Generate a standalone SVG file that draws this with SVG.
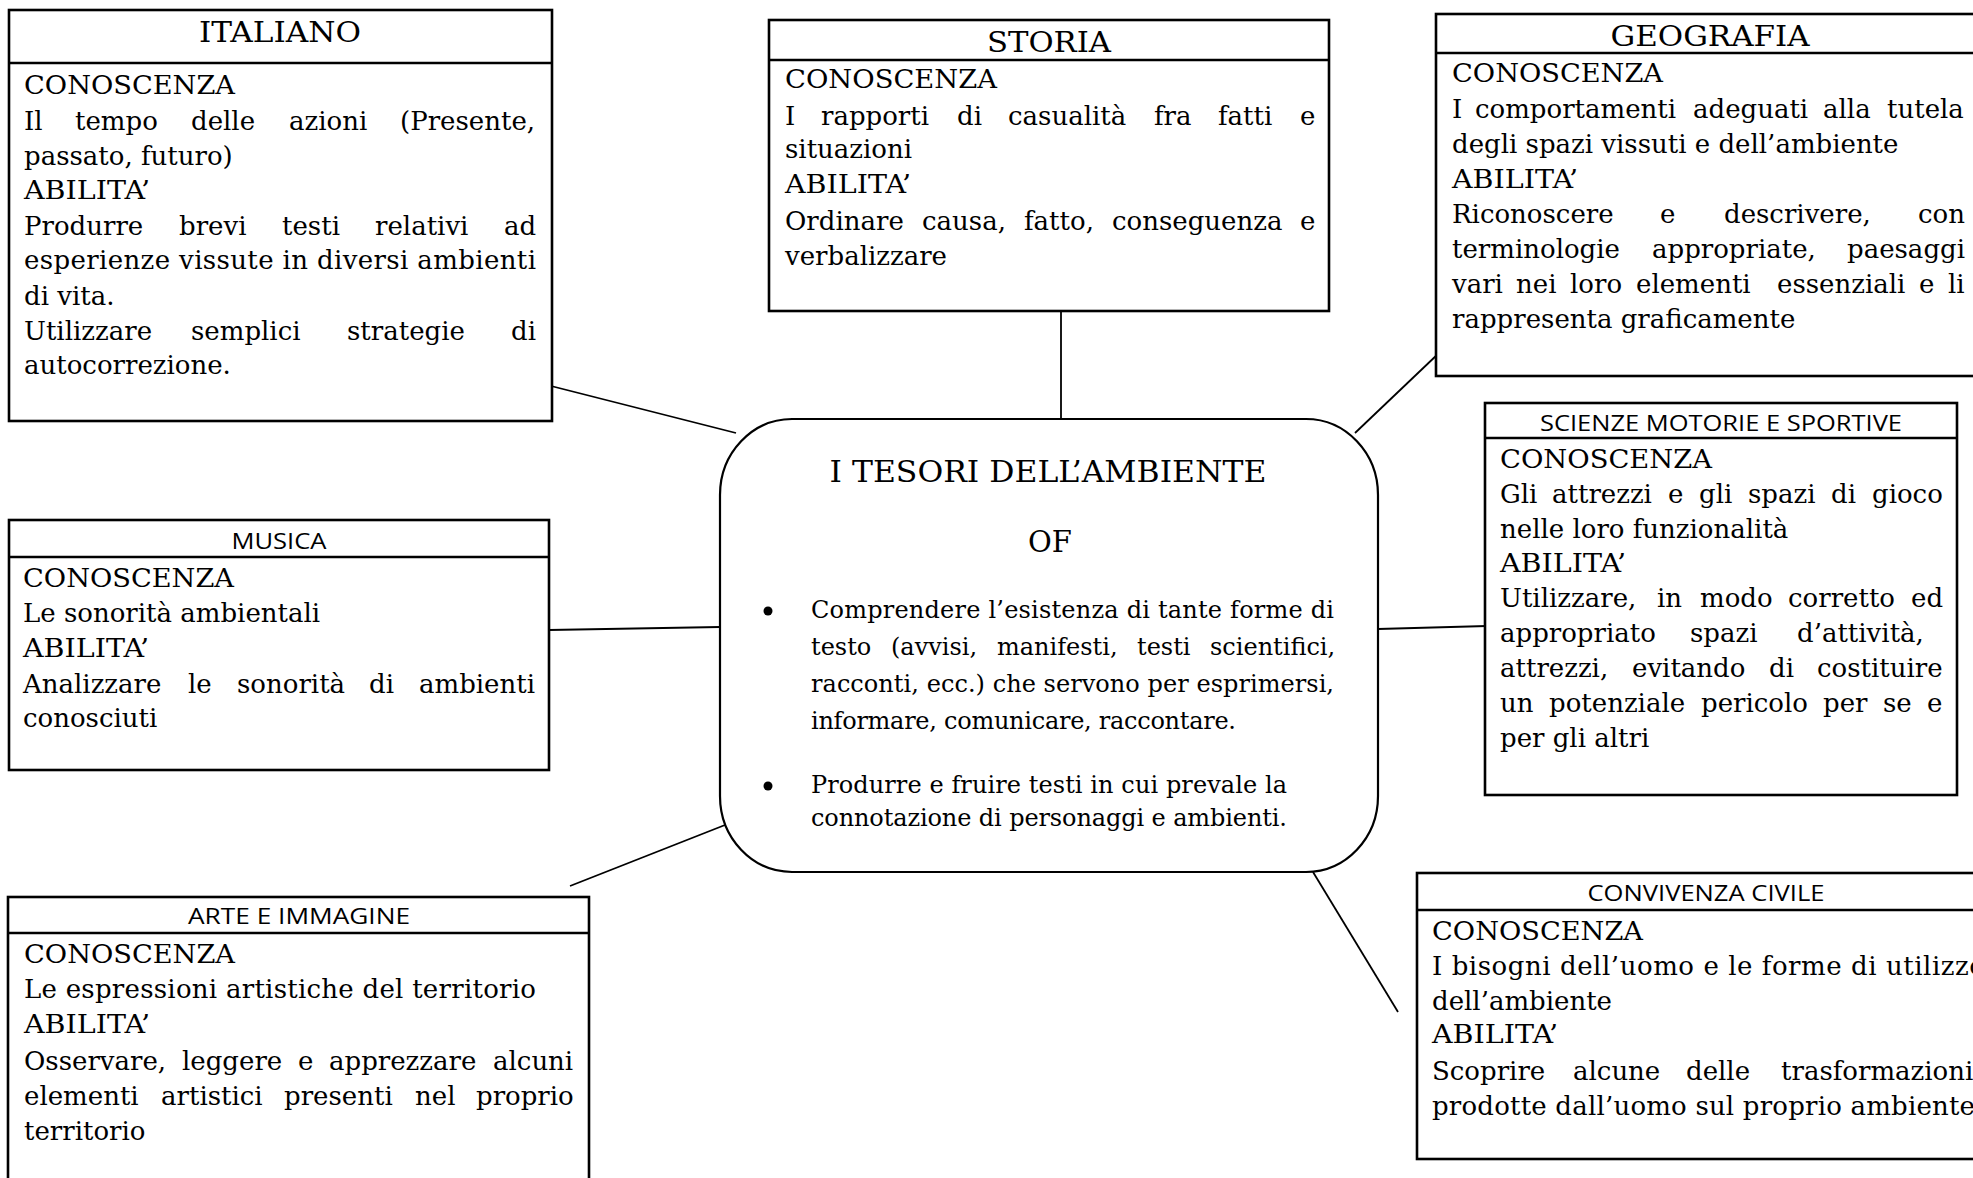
<svg xmlns="http://www.w3.org/2000/svg" width="1973" height="1178" viewBox="0 0 1973 1178">
<style>
.box{fill:#fff;stroke:#000;stroke-width:2.6}
.div{stroke:#000;stroke-width:2.6}
.conn{stroke:#000;stroke-width:1.8;fill:none}
.t{font-family:"DejaVu Serif","Liberation Serif",serif;font-size:26px;fill:#000}
.h{font-family:"DejaVu Serif","Liberation Serif",serif;font-size:28px;fill:#000;text-anchor:middle}
.hs{font-family:"Open Sans","Noto Sans","Liberation Sans",sans-serif;font-size:22px;fill:#000;text-anchor:middle}
.c{font-family:"DejaVu Serif","Liberation Serif",serif;font-size:24px;fill:#000}
.ct{font-family:"DejaVu Serif","Liberation Serif",serif;font-size:29px;fill:#000;text-anchor:middle}
</style>
<rect width="1973" height="1178" fill="#fff"/>
<g id="connectors">
<line class="conn" x1="551" y1="386" x2="736" y2="433"/>
<line class="conn" x1="1061" y1="306" x2="1061" y2="418"/>
<line class="conn" x1="1355" y1="433" x2="1439" y2="353"/>
<line class="conn" x1="549" y1="630" x2="720" y2="627"/>
<line class="conn" x1="1378" y1="629" x2="1487" y2="626"/>
<line class="conn" x1="570" y1="886" x2="725" y2="825"/>
<line class="conn" x1="1313" y1="872" x2="1398" y2="1012"/>
</g>
<g id="italiano">
<rect class="box" x="9" y="10" width="543" height="411"/>
<line class="div" x1="9" y1="63" x2="552" y2="63"/>
<text class="h" x="280" y="42" textLength="162" lengthAdjust="spacingAndGlyphs">ITALIANO</text>
<text class="t" x="24" y="94" textLength="211" lengthAdjust="spacingAndGlyphs">CONOSCENZA</text>
<text class="t" y="130"><tspan x="24">Il</tspan> <tspan x="75">tempo</tspan> <tspan x="191">delle</tspan> <tspan x="289">azioni</tspan> <tspan x="400">(Presente,</tspan></text>
<text class="t" x="24" y="165">passato, futuro)</text>
<text class="t" x="24" y="199" textLength="126" lengthAdjust="spacingAndGlyphs">ABILITA’</text>
<text class="t" y="235"><tspan x="24">Produrre</tspan> <tspan x="179">brevi</tspan> <tspan x="282">testi</tspan> <tspan x="375">relativi</tspan> <tspan x="504">ad</tspan></text>
<text class="t" x="24" y="269" textLength="512" lengthAdjust="spacing">esperienze vissute in diversi ambienti</text>
<text class="t" x="24" y="305">di vita.</text>
<text class="t" y="340"><tspan x="24">Utilizzare</tspan> <tspan x="191">semplici</tspan> <tspan x="347">strategie</tspan> <tspan x="511">di</tspan></text>
<text class="t" x="24" y="374">autocorrezione.</text>
</g>
<g id="storia">
<rect class="box" x="769" y="20" width="560" height="291"/>
<line class="div" x1="769" y1="60" x2="1329" y2="60"/>
<text class="h" x="1049" y="52" textLength="124" lengthAdjust="spacingAndGlyphs">STORIA</text>
<text class="t" x="785" y="88" textLength="212" lengthAdjust="spacingAndGlyphs">CONOSCENZA</text>
<text class="t" y="125"><tspan x="785">I</tspan> <tspan x="821">rapporti</tspan> <tspan x="957">di</tspan> <tspan x="1008">casualità</tspan> <tspan x="1154">fra</tspan> <tspan x="1218">fatti</tspan> <tspan x="1300">e</tspan></text>
<text class="t" x="785" y="158">situazioni</text>
<text class="t" x="785" y="193" textLength="126" lengthAdjust="spacingAndGlyphs">ABILITA’</text>
<text class="t" y="230"><tspan x="785">Ordinare</tspan> <tspan x="922">causa,</tspan> <tspan x="1024">fatto,</tspan> <tspan x="1112">conseguenza</tspan> <tspan x="1300">e</tspan></text>
<text class="t" x="785" y="265">verbalizzare</text>
</g>
<g id="geografia">
<rect class="box" x="1436" y="14" width="560" height="362"/>
<line class="div" x1="1436" y1="53" x2="1996" y2="53"/>
<text class="h" x="1710" y="46" textLength="199" lengthAdjust="spacingAndGlyphs">GEOGRAFIA</text>
<text class="t" x="1452" y="82" textLength="211" lengthAdjust="spacingAndGlyphs">CONOSCENZA</text>
<text class="t" y="118"><tspan x="1452">I</tspan> <tspan x="1475">comportamenti</tspan> <tspan x="1693">adeguati</tspan> <tspan x="1823">alla</tspan> <tspan x="1887">tutela</tspan></text>
<text class="t" x="1452" y="153">degli spazi vissuti e dell’ambiente</text>
<text class="t" x="1452" y="188" textLength="126" lengthAdjust="spacingAndGlyphs">ABILITA’</text>
<text class="t" y="223"><tspan x="1452">Riconoscere</tspan> <tspan x="1660">e</tspan> <tspan x="1724">descrivere,</tspan> <tspan x="1918">con</tspan></text>
<text class="t" y="258"><tspan x="1452">terminologie</tspan> <tspan x="1652">appropriate,</tspan> <tspan x="1847">paesaggi</tspan></text>
<text class="t" y="293"><tspan x="1452">vari</tspan> <tspan x="1516">nei</tspan> <tspan x="1570">loro</tspan> <tspan x="1636">elementi</tspan> <tspan x="1777">essenziali</tspan> <tspan x="1919">e</tspan> <tspan x="1948">li</tspan></text>
<text class="t" x="1452" y="328">rappresenta graficamente</text>
</g>
<g id="scienze-motorie">
<rect class="box" x="1485" y="403" width="472" height="392"/>
<line class="div" x1="1485" y1="438" x2="1957" y2="438"/>
<text class="hs" x="1721" y="431" textLength="362" lengthAdjust="spacingAndGlyphs">SCIENZE MOTORIE E SPORTIVE</text>
<text class="t" x="1500" y="468" textLength="212" lengthAdjust="spacingAndGlyphs">CONOSCENZA</text>
<text class="t" y="503"><tspan x="1500">Gli</tspan> <tspan x="1552">attrezzi</tspan> <tspan x="1668">e</tspan> <tspan x="1699">gli</tspan> <tspan x="1748">spazi</tspan> <tspan x="1831">di</tspan> <tspan x="1872">gioco</tspan></text>
<text class="t" x="1500" y="538">nelle loro funzionalità</text>
<text class="t" x="1500" y="572" textLength="126" lengthAdjust="spacingAndGlyphs">ABILITA’</text>
<text class="t" y="607"><tspan x="1500">Utilizzare,</tspan> <tspan x="1657">in</tspan> <tspan x="1700">modo</tspan> <tspan x="1788">corretto</tspan> <tspan x="1911">ed</tspan></text>
<text class="t" y="642"><tspan x="1500">appropriato</tspan> <tspan x="1690">spazi</tspan> <tspan x="1797">d’attività,</tspan></text>
<text class="t" y="677"><tspan x="1500">attrezzi,</tspan> <tspan x="1632">evitando</tspan> <tspan x="1769">di</tspan> <tspan x="1817">costituire</tspan></text>
<text class="t" y="712"><tspan x="1500">un</tspan> <tspan x="1549">potenziale</tspan> <tspan x="1701">pericolo</tspan> <tspan x="1823">per</tspan> <tspan x="1883">se</tspan> <tspan x="1927">e</tspan></text>
<text class="t" x="1500" y="747">per gli altri</text>
</g>
<g id="musica">
<rect class="box" x="9" y="520" width="540" height="250"/>
<line class="div" x1="9" y1="557" x2="549" y2="557"/>
<text class="hs" x="279" y="549" textLength="95" lengthAdjust="spacingAndGlyphs">MUSICA</text>
<text class="t" x="23" y="587" textLength="211" lengthAdjust="spacingAndGlyphs">CONOSCENZA</text>
<text class="t" x="23" y="622">Le sonorità ambientali</text>
<text class="t" x="23" y="657" textLength="126" lengthAdjust="spacingAndGlyphs">ABILITA’</text>
<text class="t" y="693"><tspan x="23">Analizzare</tspan> <tspan x="188">le</tspan> <tspan x="237">sonorità</tspan> <tspan x="369">di</tspan> <tspan x="419">ambienti</tspan></text>
<text class="t" x="23" y="727">conosciuti</text>
</g>
<g id="arte-immagine">
<rect class="box" x="8" y="897" width="581" height="300"/>
<line class="div" x1="8" y1="933" x2="589" y2="933"/>
<text class="hs" x="299" y="924" textLength="222" lengthAdjust="spacingAndGlyphs">ARTE E IMMAGINE</text>
<text class="t" x="24" y="963" textLength="211" lengthAdjust="spacingAndGlyphs">CONOSCENZA</text>
<text class="t" x="24" y="998" textLength="512" lengthAdjust="spacing">Le espressioni artistiche del territorio</text>
<text class="t" x="24" y="1033" textLength="126" lengthAdjust="spacingAndGlyphs">ABILITA’</text>
<text class="t" y="1070"><tspan x="24">Osservare,</tspan> <tspan x="182">leggere</tspan> <tspan x="298">e</tspan> <tspan x="329">apprezzare</tspan> <tspan x="493">alcuni</tspan></text>
<text class="t" y="1105"><tspan x="24">elementi</tspan> <tspan x="161">artistici</tspan> <tspan x="284">presenti</tspan> <tspan x="415">nel</tspan> <tspan x="476">proprio</tspan></text>
<text class="t" x="24" y="1140">territorio</text>
</g>
<g id="convivenza-civile">
<rect class="box" x="1417" y="873" width="577" height="286"/>
<line class="div" x1="1417" y1="910" x2="1994" y2="910"/>
<text class="hs" x="1706" y="901" textLength="237" lengthAdjust="spacingAndGlyphs">CONVIVENZA CIVILE</text>
<text class="t" x="1432" y="940" textLength="211" lengthAdjust="spacingAndGlyphs">CONOSCENZA</text>
<text class="t" x="1432" y="975" textLength="553" lengthAdjust="spacing">I bisogni dell’uomo e le forme di utilizzo</text>
<text class="t" x="1432" y="1010">dell’ambiente</text>
<text class="t" x="1432" y="1043" textLength="126" lengthAdjust="spacingAndGlyphs">ABILITA’</text>
<text class="t" y="1080"><tspan x="1432">Scoprire</tspan> <tspan x="1573">alcune</tspan> <tspan x="1686">delle</tspan> <tspan x="1781">trasformazioni</tspan></text>
<text class="t" x="1432" y="1115" textLength="543" lengthAdjust="spacing">prodotte dall’uomo sul proprio ambiente</text>
</g>
<g id="tesori-ambiente">
<rect class="box" x="720" y="419" width="658" height="453" rx="72" ry="76" style="stroke-width:2.2"/>
<text class="ct" x="1048" y="482" textLength="437" lengthAdjust="spacingAndGlyphs">I TESORI DELL’AMBIENTE</text>
<text class="ct" x="1050" y="552">OF</text>
<circle cx="768" cy="611" r="4.5"/>
<text class="c" x="811" y="618" textLength="523" lengthAdjust="spacing">Comprendere l’esistenza di tante forme di</text>
<text class="c" y="655"><tspan x="811">testo</tspan> <tspan x="891">(avvisi,</tspan> <tspan x="997">manifesti,</tspan> <tspan x="1137">testi</tspan> <tspan x="1210">scientifici,</tspan></text>
<text class="c" x="811" y="692" textLength="523" lengthAdjust="spacing">racconti, ecc.) che servono per esprimersi,</text>
<text class="c" x="811" y="729" textLength="425" lengthAdjust="spacing">informare, comunicare, raccontare.</text>
<circle cx="768" cy="786" r="4.5"/>
<text class="c" x="811" y="793" textLength="476" lengthAdjust="spacing">Produrre e fruire testi in cui prevale la</text>
<text class="c" x="811" y="826" textLength="476" lengthAdjust="spacing">connotazione di personaggi e ambienti.</text>
</g>
</svg>
